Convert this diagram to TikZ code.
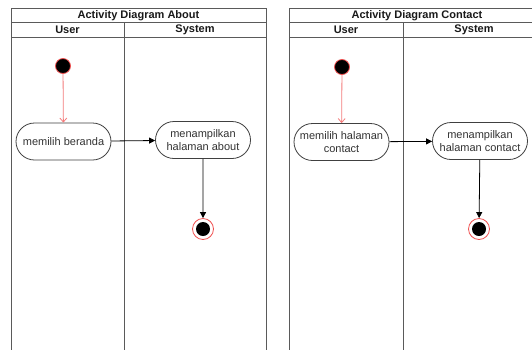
\documentclass[tikz,border=0pt]{standalone}
\usepackage{fontspec}
\setmainfont{Liberation Sans}
\usetikzlibrary{shapes.misc,arrows.meta}
\definecolor{lanegray}{HTML}{5A5A5A}
\definecolor{startred}{HTML}{F05050}
\definecolor{flowred}{HTML}{F47C7C}
\begin{document}
\begin{tikzpicture}[x=1pt,y=-1pt,
  lanebox/.style={draw=lanegray,line width=0.9pt},
  titletext/.style={font=\bfseries\fontsize{11}{12}\selectfont, text=black!90},
  act/.style={rounded rectangle, draw=black!75, line width=0.8pt, minimum width=97pt, minimum height=37pt, align=center, font=\fontsize{11}{13}\selectfont, inner sep=1pt, text=black!80},
  startnode/.style={circle, fill=black, draw=startred, line width=0.8pt, minimum size=15pt, inner sep=0pt},
  endnode/.style={circle, draw=startred, line width=0.8pt, minimum size=21pt, inner sep=0pt, path picture={\fill[black] (path picture bounding box.center) circle (7pt);}},
  redflow/.style={draw=flowred, line width=0.8pt, -{Straight Barb[length=4pt,width=7pt]}},
  blkflow/.style={draw=black, line width=0.8pt, -{Triangle[length=6pt,width=6pt]}}]
\useasboundingbox (0,0) rectangle (532,349);
\clip (0,0) rectangle (532,349);
\fill[white] (0,0) rectangle (532,349);
% left diagram
\draw[lanebox] (11,8) rectangle (266,360);
\draw[lanebox] (11,22) -- (266,22);
\draw[lanebox] (11,37) -- (266,37);
\draw[lanebox] (124,22) -- (124,360);
\node[titletext] (t1) at (138.5,15.5) {Activity Diagram About};
\node[titletext] (u1) at (67.5,30) {User};
\node[titletext] (y1) at (195,30) {System};
\node[startnode] (s1) at (63,66) {};
\node[act] (a1) at (63.5,141.5) {memilih beranda};
\node[act] (a2) at (203,140) {menampilkan\\halaman about};
\node[endnode] (e1) at (203,229) {};
\draw[redflow] (s1) -- (a1);
\draw[blkflow] (a1) -- (a2);
\draw[blkflow] (a2) -- (e1);
% right diagram
\draw[lanebox] (289,8) rectangle (545,360);
\draw[lanebox] (289,22) -- (545,22);
\draw[lanebox] (289,37) -- (545,37);
\draw[lanebox] (403,22) -- (403,360);
\node[titletext] (t2) at (417,15.5) {Activity Diagram Contact};
\node[titletext] (u2) at (346,30) {User};
\node[titletext] (y2) at (474,30) {System};
\node[startnode] (s2) at (342,67) {};
\node[act] (b1) at (341.5,142) {memilih halaman\\contact};
\node[act] (b2) at (480,141) {menampilkan\\halaman contact};
\node[endnode] (e2) at (479,229) {};
\draw[redflow] (s2) -- (b1);
\draw[blkflow] (b1) -- (b2);
\draw[blkflow] (b2) -- (e2);
\end{tikzpicture}
\end{document}
